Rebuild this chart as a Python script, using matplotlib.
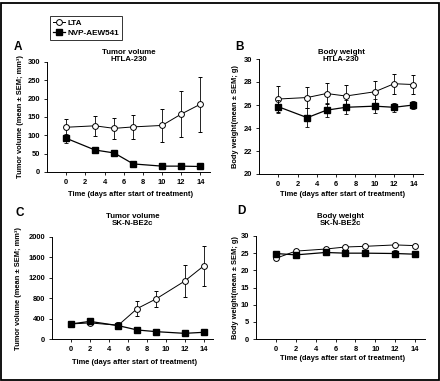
import matplotlib
matplotlib.use("Agg")
import matplotlib.pyplot as plt
from matplotlib.lines import Line2D
from matplotlib.patches import Rectangle

plt.rcParams['font.family'] = ['Liberation Sans', 'DejaVu Sans']
plt.rcParams['font.weight'] = 'bold'

W, H = 440, 381

# ---- data ----
days_a = [0, 3, 5, 7, 10, 12, 14]
lta_a = [122, 126, 119, 123, 127, 158, 185]
lta_a_err = [23, 28, 29, 33, 45, 62, 75]
nvp_a = [92, 60, 52, 22, 16, 16, 15]
nvp_a_err = [12, 3, 5, 3, 3, 2, 2]

days_b = [0, 3, 5, 7, 10, 12, 14]
lta_b = [26.52, 26.65, 27.0, 26.78, 27.15, 27.85, 27.78]
lta_b_err = [1.1, 0.95, 0.95, 1.0, 0.95, 0.85, 0.8]
nvp_b = [25.85, 24.9, 25.55, 25.8, 25.9, 25.8, 26.0]
nvp_b_err = [0.55, 0.8, 0.6, 0.6, 0.6, 0.4, 0.35]

days_c = [0, 2, 5, 7, 9, 12, 14]
lta_c = [295, 315, 270, 597, 787, 1134, 1430]
lta_c_err = [20, 25, 55, 140, 160, 315, 390]
nvp_c = [295, 345, 262, 177, 144, 111, 131]
nvp_c_err = [20, 20, 30, 15, 10, 10, 10]

days_d = [0, 2, 5, 7, 9, 12, 14]
lta_d = [23.5, 25.6, 26.2, 26.8, 27.0, 27.4, 27.2]
lta_d_err = [0.6, 0.5, 0.5, 0.5, 0.4, 0.4, 0.5]
nvp_d = [24.9, 24.5, 25.2, 25.0, 25.0, 24.9, 24.7]
nvp_d_err = [0.4, 0.5, 0.5, 0.5, 0.6, 0.9, 0.9]

xticks = [0, 2, 4, 6, 8, 10, 12, 14]
series_names = ["LTA", "NVP-AEW541"]
xlabel = "Time (days after start of treatment)"
tv_label = "Tumor volume (mean \u00b1 SEM; mm\u00b3)"
bw_label = "Body weight(mean \u00b1 SEM; g)"

fig = plt.figure(figsize=(W / 100, H / 100), dpi=100)
fig.patches.append(Rectangle((0.002, 0.003), 0.995, 0.99, transform=fig.transFigure,
                             fill=False, edgecolor='black', linewidth=1.3))


def px_axes(l, r, t, b):
    return fig.add_axes([l / W, 1 - b / H, (r - l) / W, (b - t) / H])


FS = 5.4


def draw(ax, days, lta, lta_e, nvp, nvp_e, ylim, yticks, ylabel, title, title_y, letter, letter_xy, xlab_y, ylab_x):
    ax.errorbar(days, lta, yerr=lta_e, color='black', lw=0.7, marker='o', ms=4.2,
                mfc='white', mec='black', mew=0.7, elinewidth=0.6, capsize=1.5, capthick=0.6, zorder=3)
    ax.errorbar(days, nvp, yerr=nvp_e, color='black', lw=0.9, marker='s', ms=3.8,
                mfc='black', mec='black', elinewidth=0.6, capsize=1.5, capthick=0.6, zorder=4)
    ax.set_xlim(-2, 15)
    ax.set_ylim(*ylim)
    ax.set_xticks(xticks)
    ax.set_yticks(yticks)
    for s in ['top', 'right']:
        ax.spines[s].set_visible(False)
    for s in ['left', 'bottom']:
        ax.spines[s].set_linewidth(0.7)
    ax.tick_params(axis='both', labelsize=FS, width=0.6, length=2.5, pad=2.5)
    for lab in ax.get_xticklabels() + ax.get_yticklabels():
        lab.set_fontweight('bold')
    bb = ax.get_position()
    cx = (bb.x0 + bb.x1) / 2
    fig.text(cx, 1 - title_y / H, title, ha='center', va='center', fontsize=FS + 0.3,
             fontweight='bold', linespacing=1.1)
    fig.text(letter_xy[0] / W, 1 - letter_xy[1] / H, letter, ha='left', va='center',
             fontsize=8.5, fontweight='bold')
    fig.text(cx + 2 / W, 1 - xlab_y / H, xlabel, ha='center', va='center', fontsize=FS,
             fontweight='bold')
    fig.text(ylab_x / W, (bb.y0 + bb.y1) / 2, ylabel, ha='center', va='center', rotation=90,
             fontsize=FS, fontweight='bold')


axA = px_axes(47, 210, 62, 172)
draw(axA, days_a, lta_a, lta_a_err, nvp_a, nvp_a_err, (0, 300), [0, 50, 100, 150, 200, 250, 300],
     tv_label, "Tumor volume\nHTLA-230", 56, "A", (14, 47), 195, 20)

axB = px_axes(259, 423, 59, 174)
draw(axB, days_b, lta_b, lta_b_err, nvp_b, nvp_b_err, (20, 30), [20, 22, 24, 26, 28, 30],
     bw_label, "Body weight\nHTLA-230", 56, "B", (235, 47), 195, 235)

axC = px_axes(52, 213, 237, 339)
draw(axC, days_c, lta_c, lta_c_err, nvp_c, nvp_c_err, (0, 2000), [0, 400, 800, 1200, 1600, 2000],
     tv_label, "Tumor volume\nSK-N-BE2c", 220, "C", (16, 213), 362, 18)

axD = px_axes(256, 425, 236, 339)
draw(axD, days_d, lta_d, lta_d_err, nvp_d, nvp_d_err, (0, 30), [0, 5, 10, 15, 20, 25, 30],
     bw_label, "Body weight\nSK-N-BE2c", 220, "D", (237, 211), 359, 235)

handles = [
    Line2D([], [], color='black', lw=0.7, marker='o', ms=4.2, mfc='white', mec='black', mew=0.7),
    Line2D([], [], color='black', lw=0.9, marker='s', ms=3.8, mfc='black', mec='black'),
]
leg = fig.legend(handles, series_names, loc='upper left', bbox_to_anchor=(50 / W, 1 - 16 / H),
                 borderaxespad=0, frameon=True, fancybox=False,
                 handlelength=1.5, handletextpad=0.3, borderpad=0.35, labelspacing=0.3,
                 prop={'weight': 'bold', 'size': FS + 0.5})
leg.get_frame().set_edgecolor('black')
leg.get_frame().set_linewidth(0.7)

fig.savefig("out.png", dpi=100)
